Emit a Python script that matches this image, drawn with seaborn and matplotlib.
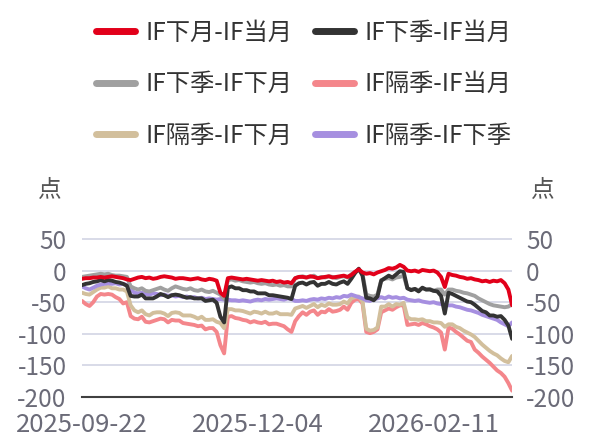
import numpy as np
import pandas as pd
import matplotlib
matplotlib.use("Agg")
import matplotlib.pyplot as plt
import seaborn as sns
from matplotlib.lines import Line2D

# ---------------- data ----------------
tick_labels = ["2025-09-22", "2025-12-04", "2026-02-11"]
tick_pos = [0, 47, 94]

series_names = ["IF下月-IF当月", "IF下季-IF当月", "IF下季-IF下月",
                "IF隔季-IF当月", "IF隔季-IF下月", "IF隔季-IF下季"]

red = [-13, -12, -12, -11, -11, -10, -11, -10, -9, -10, -11,
       -12, -14, -15, -13,
       -11, -10, -12, -11, -13, -12, -10, -9, -10, -11, -13, -12, -12, -13, -14, -13, -12, -14, -15, -13, -14, -16,
       -35, -40, -12, -11,
       -12, -13, -14, -13, -14, -15, -16, -15, -16, -17, -16, -18, -17, -19, -18, -20,
       -12, -10,
       -10, -11, -9, -10, -12, -11, -10, -9, -11, -10, -9, -8, -10, -7,
       -2, 2, -3,
       -5, -4, -6, -3,
       -1, 1, 4, 3, 5, 9, 6,
       0, -1, 0, -2, 1, 0, -1, 0, -3,
       -10, -26, -5,
       -7, -8, -10, -11, -13, -12, -14, -15, -17, -16, -18, -16, -17, -15,
       -20, -30, -55]

black = [-23, -21, -20, -18, -17, -15, -17, -15, -16, -18, -19,
         -21, -24, -40, -41,
         -41, -38, -44, -44, -44, -41, -37, -39, -42, -39, -38, -39, -41, -43, -42, -44, -44, -44, -48, -47, -46, -51,
         -73, -82, -27, -25,
         -28, -28, -31, -31, -33, -33, -36, -36, -36, -39, -39, -40, -41, -42, -43, -45,
         -24, -20,
         -19, -22, -19, -18, -24, -21, -21, -18, -21, -22, -19, -17, -21, -13,
         -4, 3, -8,
         -43, -44, -47, -41,
         -16, -12, -8, -11, -6, -1, -2,
         -28, -31, -29, -33, -27, -30, -30, -32, -33,
         -40, -68, -35,
         -37, -40, -43, -46, -49, -50, -54, -59, -64, -66, -71, -71, -73, -72,
         -78, -87, -108]

gray = [-10, -9, -8, -7, -6, -5, -6, -5, -7, -8, -8,
        -9, -10, -25, -28,
        -30, -28, -32, -33, -31, -29, -27, -30, -32, -28, -25, -27, -29, -30, -28, -31, -32, -30, -33, -34, -32, -35,
        -38, -45, -15, -14,
        -16, -15, -17, -18, -19, -18, -20, -21, -20, -22, -23, -22, -24, -23, -25, -25,
        -12, -10,
        -9, -11, -10, -8, -12, -10, -11, -9, -10, -12, -10, -9, -11, -6,
        -2, 1, -5,
        -38, -40, -41, -38,
        -15, -13, -12, -14, -11, -10, -8,
        -28, -30, -29, -31, -28, -30, -29, -32, -30,
        -30, -38, -30,
        -30, -32, -33, -35, -36, -38, -40, -44, -47, -50, -53, -55, -56, -57,
        -58, -57, -53]

pink = [-48, -53, -56, -50, -41, -37, -38, -37, -38, -42, -45,
        -52, -50, -72, -76,
        -77, -73, -81, -82, -80, -78, -76, -77, -82, -78, -79, -79, -83, -84, -85, -86, -88, -87, -93, -91, -91, -97,
        -118, -131, -73, -72,
        -75, -76, -78, -79, -82, -80, -82, -83, -81, -85, -84, -84, -86, -88, -93, -97,
        -80, -72,
        -66, -70, -65, -63, -70, -65, -66, -61, -65, -64, -62, -57, -62, -51,
        -46, -45, -52,
        -97, -99, -97, -93,
        -66, -63, -60, -62, -58, -55, -55,
        -86, -85, -84, -86, -83, -85, -88, -90, -93,
        -98, -125, -90,
        -92, -97, -101, -106, -111, -113, -125, -130, -136, -141, -146, -152, -158, -162,
        -168, -178, -190]

tan = [-35, -37, -38, -34, -30, -27, -27, -25, -28, -28, -30,
       -30, -33, -55, -63,
       -66, -63, -69, -71, -67, -66, -66, -68, -72, -67, -66, -67, -71, -71, -71, -73, -76, -73, -78, -78, -77, -81,
       -83, -91, -61, -61,
       -63, -63, -64, -66, -68, -65, -66, -68, -65, -68, -68, -66, -69, -69, -69, -70,
       -60, -58,
       -56, -59, -56, -53, -58, -54, -56, -52, -54, -54, -53, -49, -52, -44,
       -42, -41, -49,
       -92, -95, -94, -90,
       -57, -57, -53, -57, -53, -54, -51,
       -74, -77, -77, -78, -77, -80, -80, -82, -82,
       -83, -89, -85,
       -85, -89, -91, -95, -98, -101, -105, -111, -117, -122, -127, -131, -134, -139,
       -143, -145, -135]

purple = [-25, -28, -30, -27, -24, -22, -21, -20, -21, -20, -22,
          -21, -23, -30, -35,
          -36, -35, -37, -38, -36, -37, -39, -38, -40, -39, -41, -40, -42, -41, -43, -42, -44, -43, -45, -44, -45, -46,
          -45, -46, -46, -47,
          -47, -48, -47, -48, -49, -47, -46, -47, -45, -46, -45, -44, -45, -46, -44, -45,
          -48, -48,
          -47, -48, -46, -45, -46, -44, -45, -43, -44, -42, -43, -40, -41, -38,
          -40, -42, -44,
          -47, -48, -45, -44,
          -42, -44, -41, -43, -42, -44, -43,
          -46, -47, -48, -47, -49, -50, -51, -50, -52,
          -53, -54, -55,
          -55, -57, -58, -60, -62, -63, -65, -67, -70, -72, -74, -76, -78, -82,
          -85, -88, -82]

colors = ["#e2001a", "#333333", "#a0a0a0", "#f4868b", "#d2bf9c", "#a68fe0"]

values = [red, black, gray, pink, tan, purple]
frames = []
for name, vals in zip(series_names, values):
    frames.append(pd.DataFrame({"idx": np.arange(len(vals)), "value": vals, "series": name}))
df = pd.concat(frames, ignore_index=True)

# ---------------- plot ----------------
sns.set_theme(style="white")
plt.rcParams["font.family"] = ["Noto Sans CJK SC", "DejaVu Sans"]
plt.rcParams["axes.unicode_minus"] = False

fig = plt.figure(figsize=(5.9, 4.38), dpi=100)
ax = fig.add_axes([0.139, 0.0936, 0.729, 0.368])

draw_order = ["IF隔季-IF当月", "IF隔季-IF下月", "IF隔季-IF下季",
              "IF下季-IF下月", "IF下季-IF当月", "IF下月-IF当月"]
pal = dict(zip(series_names, colors))
for name in draw_order:
    sns.lineplot(data=df[df["series"] == name], x="idx", y="value",
                 color=pal[name], linewidth=2.8, ax=ax, legend=False)

ax.set_xlim(0, len(red) - 1)
ax.set_ylim(-200, 55)
yt = [50, 0, -50, -100, -150, -200]
ax.set_yticks(yt)
ax.set_yticklabels([str(v) for v in yt])
ax.yaxis.grid(True, color="#d8dbe8", linewidth=1.4)
ax.set_axisbelow(True)
ax.set_xticks(tick_pos + [len(red) - 1])
ax.set_xticklabels(tick_labels + [""])
ax.set_xlabel("")
ax.set_ylabel("")
for s in ["top", "right", "left"]:
    ax.spines[s].set_visible(False)
ax.spines["bottom"].set_color("#404040")
ax.spines["bottom"].set_linewidth(1.5)
ax.tick_params(axis="x", direction="in", length=9, width=1.5, color="#404040",
               labelsize=18.5, labelcolor="#6b6b78", pad=11)
ax.tick_params(axis="y", length=0, labelsize=17.5, labelcolor="#6b6b78", pad=11)

ax2 = ax.twinx()
ax2.set_ylim(ax.get_ylim())
ax2.set_yticks(yt)
ax2.set_yticklabels([str(v) for v in yt])
for s in ["top", "right", "left", "bottom"]:
    ax2.spines[s].set_visible(False)
ax2.tick_params(axis="y", length=0, labelsize=17.5, labelcolor="#6b6b78", pad=10)

fig.text(50 / 590, 1 - 190 / 438, "点", fontsize=17, color="#555555", ha="center", va="center")
fig.text(543 / 590, 1 - 190 / 438, "点", fontsize=17, color="#555555", ha="center", va="center")

# legend filled row-wise as in the reference (matplotlib fills column-wise)
order = [0, 2, 4, 1, 3, 5]
handles = [Line2D([0], [0], color=colors[i], linewidth=5) for i in order]
labels = [series_names[i] for i in order]
fig.legend(handles, labels, loc="upper center", bbox_to_anchor=(0.515, 1.005),
           ncol=2, frameon=False, fontsize=17.5, handlelength=1.6, handletextpad=0.45,
           columnspacing=0.9, labelspacing=1.05, labelcolor="#333333")

fig.savefig("out.png", dpi=100)
